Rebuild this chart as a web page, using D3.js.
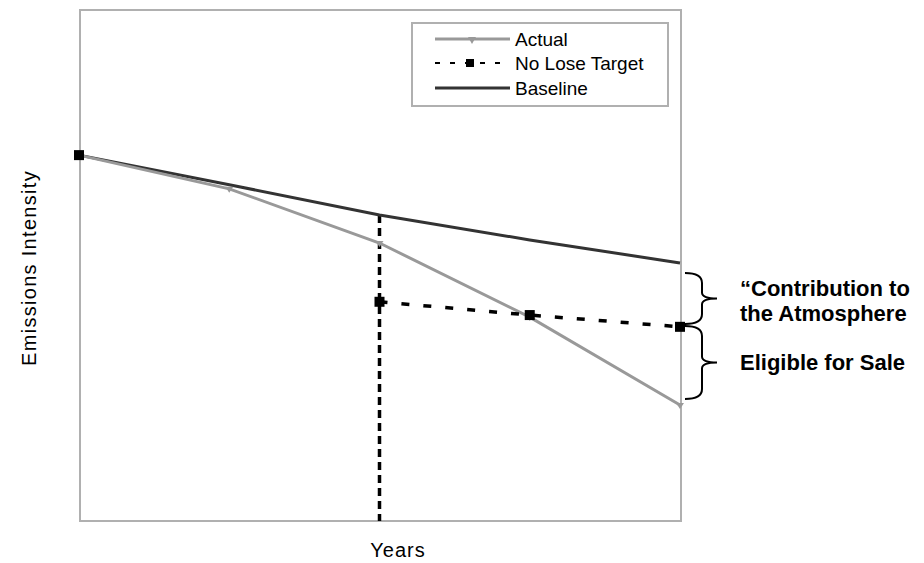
<!DOCTYPE html>
<html><head><meta charset="utf-8">
<script src="https://cdn.jsdelivr.net/npm/d3@7"></script>
<style>body{margin:0;background:#fff}svg{display:block}</style>
</head><body><svg id="c" width="924" height="563"></svg>
<script>
const periods = [0, 1, 2, 3, 4];
const baseline = [71.6, 65.8, 59.9, 55.0, 50.5];
const actual = [71.6, 65.0, 54.4, 39.9, 22.7];
const target = [71.6, null, 42.9, 40.3, 38.0];
const seriesNames = ["Actual", "No Lose Target", "Baseline"];
const axisLabels = {x: "Years", y: "Emissions Intensity"};
const annotations = ["\u201cContribution to", "the Atmosphere", "Eligible for Sale"];

const svg = d3.select("#c");
const x = d3.scaleLinear().domain([0, 4]).range([79, 680]);
const y = d3.scaleLinear().domain([0, 100]).range([521, 10]);

// plot border
svg.append("rect").attr("x", 80).attr("y", 10).attr("width", 601).attr("height", 511)
  .attr("fill", "none").attr("stroke", "#b0b0b0").attr("stroke-width", 2);

const line = d3.line().defined(d => d.v != null).x(d => x(d.p)).y(d => y(d.v));
const pts = arr => periods.map((p, i) => ({p, v: arr[i]}));

// vertical dashed line at period 2 from baseline to bottom
svg.append("line").attr("x1", x(2)).attr("x2", x(2)).attr("y1", y(baseline[2])).attr("y2", y(0))
  .attr("stroke", "#000").attr("stroke-width", 3.5).attr("stroke-dasharray", "8,5");

// baseline
svg.append("path").attr("d", line(pts(baseline))).attr("fill", "none")
  .attr("stroke", "#333").attr("stroke-width", 3);
// actual
svg.append("path").attr("d", line(pts(actual))).attr("fill", "none")
  .attr("stroke", "#999").attr("stroke-width", 3);
svg.selectAll(".am").data(pts(actual).slice(1)).join("path")
  .attr("transform", d => `translate(${x(d.p)},${y(d.v)})`)
  .attr("d", "M-4,-2 L4,-2 L0,4 Z").attr("fill", "#999");
// target dashed run
svg.append("path").attr("d", line(pts(target).slice(2))).attr("fill", "none")
  .attr("stroke", "#000").attr("stroke-width", 3.5).attr("stroke-dasharray", "8,14");
svg.selectAll(".tm").data(pts(target).filter(d => d.v != null)).join("rect")
  .attr("x", d => x(d.p) - 5).attr("y", d => y(d.v) - 5).attr("width", 10).attr("height", 10)
  .attr("fill", "#000");

// legend
const lg = svg.append("g");
lg.append("rect").attr("x", 412).attr("y", 23).attr("width", 256).attr("height", 83)
  .attr("fill", "#fff").attr("stroke", "#b0b0b0").attr("stroke-width", 2);
const rowsY = [39, 63, 88];
lg.append("line").attr("x1", 435).attr("x2", 510).attr("y1", rowsY[0]).attr("y2", rowsY[0])
  .attr("stroke", "#999").attr("stroke-width", 3);
lg.append("path").attr("transform", `translate(472,${rowsY[0]})`).attr("d", "M-4,-2 L4,-2 L0,5 Z").attr("fill", "#999");
lg.append("line").attr("x1", 435).attr("x2", 510).attr("y1", rowsY[1]).attr("y2", rowsY[1])
  .attr("stroke", "#000").attr("stroke-width", 2).attr("stroke-dasharray", "5,10");
lg.append("rect").attr("x", 466).attr("y", rowsY[1] - 4).attr("width", 8).attr("height", 8).attr("fill", "#000");
lg.append("line").attr("x1", 435).attr("x2", 510).attr("y1", rowsY[2]).attr("y2", rowsY[2])
  .attr("stroke", "#333").attr("stroke-width", 3);
lg.selectAll(".lt").data(seriesNames).join("text")
  .attr("x", 515).attr("y", (d, i) => rowsY[i]).attr("dy", "0.35em")
  .attr("font-family", "Liberation Sans, Arial, sans-serif").attr("font-size", 19)
  .attr("fill", "#000").text(d => d);

// axis labels
svg.append("text").attr("x", 398).attr("y", 557).attr("text-anchor", "middle")
  .attr("font-family", "Liberation Sans, Arial, sans-serif").attr("font-size", 20)
  .attr("letter-spacing", 1).text(axisLabels.x);
svg.append("text").attr("transform", "translate(36,268) rotate(-90)").attr("text-anchor", "middle")
  .attr("font-family", "Liberation Sans, Arial, sans-serif").attr("font-size", 20)
  .attr("letter-spacing", 1.3).text(axisLabels.y);

// braces
function brace(y0, y1) {
  const m = (y0 + y1) / 2, xl = 685, xv = 702, xt = 717;
  return `M${xl},${y0} Q${xv},${y0} ${xv},${y0 + 10} L${xv},${m - 6} Q${xv},${m} ${xt},${m} Q${xv},${m} ${xv},${m + 6} L${xv},${y1 - 10} Q${xv},${y1} ${xl},${y1}`;
}
svg.append("path").attr("d", brace(273, 324)).attr("fill", "none").attr("stroke", "#000").attr("stroke-width", 2);
svg.append("path").attr("d", brace(326, 399)).attr("fill", "none").attr("stroke", "#000").attr("stroke-width", 2);

const ann = [[740, 296], [740, 321], [740, 370]];
svg.selectAll(".an").data(annotations).join("text")
  .attr("x", (d, i) => ann[i][0]).attr("y", (d, i) => ann[i][1])
  .attr("font-family", "Liberation Sans, Arial, sans-serif").attr("font-weight", "bold")
  .attr("font-size", 22).attr("fill", "#000").text(d => d);
</script></body></html>
